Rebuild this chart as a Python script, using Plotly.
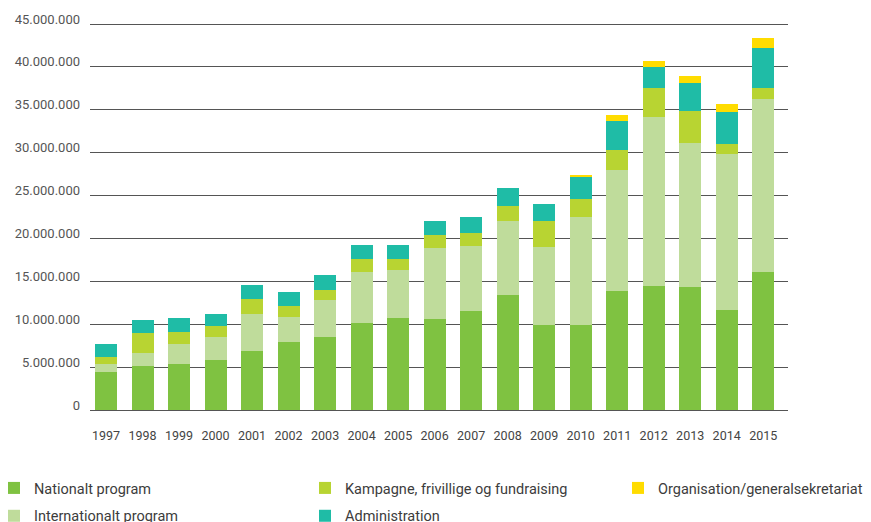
import plotly.graph_objects as go

years = ["1997", "1998", "1999", "2000", "2001", "2002", "2003", "2004", "2005", "2006",
         "2007", "2008", "2009", "2010", "2011", "2012", "2013", "2014", "2015"]

nationalt = [4.44, 5.14, 5.37, 5.84, 6.89, 7.94, 8.53, 10.16, 10.75, 10.63,
             11.57, 13.43, 9.93, 9.93, 13.90, 14.49, 14.37, 11.68, 16.12]
internationalt = [0.93, 1.52, 2.34, 2.69, 4.32, 2.92, 4.32, 5.96, 5.61, 8.30,
                  7.59, 8.65, 9.11, 12.62, 14.14, 19.63, 16.71, 18.22, 20.09]
kampagne = [0.82, 2.34, 1.40, 1.28, 1.76, 1.29, 1.17, 1.52, 1.28, 1.51,
            1.52, 1.75, 3.04, 2.10, 2.33, 3.39, 3.74, 1.17, 1.29]
administration = [1.52, 1.52, 1.64, 1.40, 1.63, 1.64, 1.75, 1.64, 1.64, 1.64,
                  1.87, 2.10, 1.99, 2.57, 3.27, 2.45, 3.27, 3.62, 4.67]
organisation = [0, 0, 0, 0, 0, 0, 0, 0, 0, 0,
                0, 0, 0, 0.23, 0.70, 0.70, 0.82, 0.93, 1.17]

tick_vals = [0, 5e6, 10e6, 15e6, 20e6, 25e6, 30e6, 35e6, 40e6, 45e6]
tick_text = ["0", "5.000.000", "10.000.000", "15.000.000", "20.000.000", "25.000.000",
             "30.000.000", "35.000.000", "40.000.000", "45.000.000"]

series = [
    ("Nationalt program", nationalt, "#7fc241", "legend"),
    ("Internationalt program", internationalt, "#bfdc9b", "legend"),
    ("Kampagne, frivillige og fundraising", kampagne, "#b8d432", "legend2"),
    ("Administration", administration, "#1fbca6", "legend2"),
    ("Organisation/generalsekretariat", organisation, "#ffdc00", "legend3"),
]

fig = go.Figure()
for name, vals, color, leg in series:
    fig.add_trace(go.Bar(
        x=years, y=[v * 1e6 for v in vals], name=name,
        marker=dict(color=color, line=dict(width=0)),
        legend=leg, legendgroup=name,
    ))

# plot area: x 90..788 (698 px), y 20..410 (390 px)
PL, PW, PB, PH = 90, 698, 410, 390


def px_x(px):
    return (px - PL) / PW


def px_y(py):
    return (PB - py) / PH


legend_common = dict(
    orientation="v", xanchor="left", yanchor="top",
    font=dict(family="Roboto", size=14.5, color="#3c3c3c"),
    bgcolor="rgba(0,0,0,0)", tracegroupgap=6, traceorder="grouped",
    borderwidth=0,
)

fig.update_layout(
    width=871, height=522,
    barmode="stack", bargap=0.4,
    plot_bgcolor="white", paper_bgcolor="white",
    margin=dict(l=90, r=83, t=20, b=112, autoexpand=False),
    font=dict(family="Roboto", color="#555555"),
    xaxis=dict(
        range=[-0.44, 18.68], showgrid=False, showline=False, ticks="",
        tickfont=dict(size=12.5, color="#444444"), ticklabelstandoff=16,
        tickangle=0,
    ),
    yaxis=dict(
        range=[0, 45.47e6], tickvals=tick_vals, ticktext=tick_text,
        showgrid=True, gridcolor="#555555", gridwidth=1,
        zeroline=True, zerolinecolor="#555555", zerolinewidth=1,
        showline=False, ticks="",
        tickfont=dict(size=13, color="#555555"),
        ticklabelstandoff=9, ticklabelshift=-5,
    ),
    legend=dict(x=px_x(-6), y=px_y(472), **legend_common),
    legend2=dict(x=px_x(305), y=px_y(472), **legend_common),
    legend3=dict(x=px_x(618), y=px_y(472), **legend_common),
)

fig.write_html(
    "out.html",
    config={"displayModeBar": False},
    post_script="document.body.style.margin='0';document.body.style.overflow='hidden';",
)
